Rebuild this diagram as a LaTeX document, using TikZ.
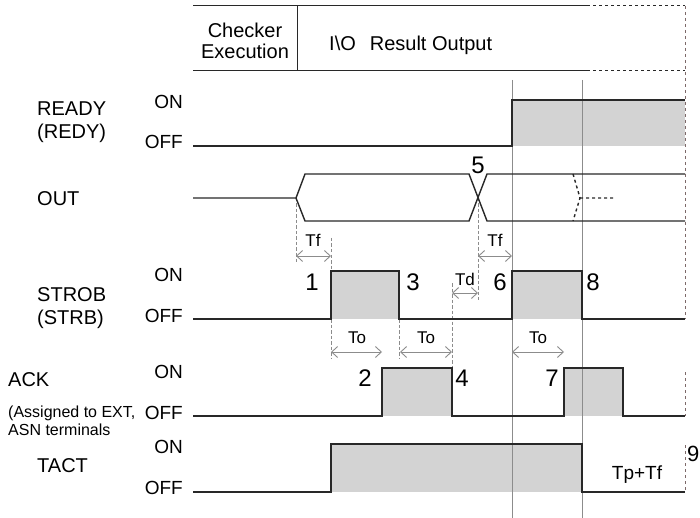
\documentclass[tikz,border=0pt]{standalone}
\usepackage{fontspec}
\setmainfont{Liberation Sans}
\usetikzlibrary{arrows.meta}
\definecolor{tdline}{RGB}{40,40,40}
\definecolor{tdfill}{RGB}{211,211,211}
\definecolor{tdgrid}{RGB}{140,140,140}
\definecolor{tdedge}{RGB}{125,105,105}

\tikzset{
  sig/.style={tdline,line width=1.4pt},
  aux/.style={tdgrid,line width=0.8pt,dash pattern=on 3.5pt off 2pt},
  tspan/.style={tdgrid,line width=0.9pt,
    {Straight Barb[length=6pt,width=11pt]}-{Straight Barb[length=6pt,width=11pt]}},
  lvl/.style={anchor=east,inner sep=0pt,font=\fontsize{19}{21}\selectfont},
  signame/.style={anchor=west,align=left,inner sep=0pt,font=\fontsize{20}{23}\selectfont},
  evnum/.style={inner sep=0pt,font=\fontsize{24}{26}\selectfont},
  tlbl/.style={inner sep=0pt,font=\fontsize{17}{18}\selectfont},
}

\begin{document}
\begin{tikzpicture}[x=1pt,y=-1pt,line join=miter]
  \useasboundingbox[fill=white] (0,0) rectangle (700,518);

  % header
  \draw[tdline,line width=1pt] (193,6) -- (587,6) (193,71) -- (587,71) (297,6) -- (297,71);
  \draw[tdline,line width=1pt,dashed] (587,6) -- (685,6) (587,71) -- (685,71);
  \node[align=center,inner sep=0pt,font=\fontsize{20}{21}\selectfont] (hdchk) at (245,41) {Checker\\Execution};
  \node[anchor=west,inner sep=0pt,font=\fontsize{20}{21}\selectfont] (hdio) at (329,45) {I\textbackslash O\hspace{0.7em}Result Output};

  % shaded ON periods
  \fill[tdfill] (512,100) rectangle (685,146);
  \fill[tdfill] (331,271) rectangle (399,319);
  \fill[tdfill] (512,271) rectangle (582,319);
  \fill[tdfill] (382,368) rectangle (452,416);
  \fill[tdfill] (564,368) rectangle (623,416);
  \fill[tdfill] (331,444) rectangle (582,492);

  % time marks
  \draw[tdgrid,line width=0.9pt] (512,80) -- (512,518) (582,80) -- (582,518);
  \draw[tdedge,line width=0.9pt,dashed] (685,6) -- (685,319) (685,372) -- (685,416) (685,445) -- (685,492);
  \draw[aux] (296,198) -- (296,262) (331,238) -- (331,271) (331,319) -- (331,358)
             (399,319) -- (399,358) (452,283) -- (452,368) (478,198) -- (478,300);

  % READY
  \draw[sig] (193,146) -| (512,100) -- (685,100);
  % OUT
  \draw[sig] (193,198) -- (296,198) -- (305,174) -- (469,174) -- (487,221) -- (685,221);
  \draw[sig] (296,198) -- (305,221) -- (469,221) -- (487,174) -- (685,174);
  \draw[sig,dashed] (573,174) -- (580,198) -- (573,221) (580,198) -- (615,198);
  % STROB
  \draw[sig] (193,319) -| (331,271) -| (399,319) -| (512,271) -| (582,319) -- (685,319);
  % ACK
  \draw[sig] (193,416) -| (382,368) -| (452,416) -| (564,368) -| (623,416) -- (685,416);
  % TACT
  \draw[sig] (193,492) -| (331,444) -| (582,492) -- (685,492);

  % timing spans
  \coordinate (tfA) at (296,256);
  \coordinate (tfB) at (331,256);
  \coordinate (tfC) at (478,256);
  \coordinate (tfD) at (512,256);
  \coordinate (tdA) at (452,293);
  \coordinate (tdB) at (478,293);
  \coordinate (toA) at (331,352);
  \coordinate (toB) at (382,352);
  \coordinate (toC) at (400,352);
  \coordinate (toD) at (452,352);
  \coordinate (toE) at (512,352);
  \coordinate (toF) at (564,352);
  \draw[tspan] (tfA) -- (tfB);
  \draw[tspan] (tfC) -- (tfD);
  \draw[tspan] (tdA) -- (tdB);
  \draw[tspan] (toA) -- (toB);
  \draw[tspan] (toC) -- (toD);
  \draw[tspan] (toE) -- (toF);
  \node[tlbl] (ltf1) at (313,240) {Tf};
  \node[tlbl] (ltf2) at (495,240) {Tf};
  \node[tlbl] (ltd) at (465,279) {Td};
  \node[tlbl] (lto1) at (357,338) {To};
  \node[tlbl] (lto2) at (426,338) {To};
  \node[tlbl] (lto3) at (538,338) {To};
  \node[inner sep=0pt,font=\fontsize{19}{21}\selectfont] (ltp) at (637,475) {Tp+Tf};

  % event numbers
  \node[evnum] (e1) at (312,282) {1};
  \node[evnum] (e2) at (365,378) {2};
  \node[evnum] (e3) at (413,282) {3};
  \node[evnum] (e4) at (462,378) {4};
  \node[evnum] (e5) at (478,165) {5};
  \node[evnum] (e6) at (500,282) {6};
  \node[evnum] (e7) at (552,378) {7};
  \node[evnum] (e8) at (593,282) {8};
  \node[evnum,anchor=west,font=\fontsize{22}{24}\selectfont] (e9) at (687,454) {9};

  % signal names
  \node[signame] (nrdy) at (37,122) {READY\\(REDY)};
  \node[signame] (nout) at (37,199) {OUT};
  \node[signame] (nstb) at (37,308) {STROB\\(STRB)};
  \node[signame] (nack) at (8,380) {ACK};
  \node[signame,font=\fontsize{16}{18}\selectfont] (nasg) at (8,421) {(Assigned to EXT,\\ASN terminals};
  \node[signame] (ntct) at (37,466) {TACT};

  % levels
  \node[lvl] (rdyon) at (183,102) {ON};
  \node[lvl] (rdyoff) at (183,142) {OFF};
  \node[lvl] (stbon) at (183,275) {ON};
  \node[lvl] (stboff) at (183,316) {OFF};
  \node[lvl] (ackon) at (183,372) {ON};
  \node[lvl] (ackoff) at (183,413) {OFF};
  \node[lvl] (tcton) at (183,447) {ON};
  \node[lvl] (tctoff) at (183,488) {OFF};
\end{tikzpicture}
\end{document}
